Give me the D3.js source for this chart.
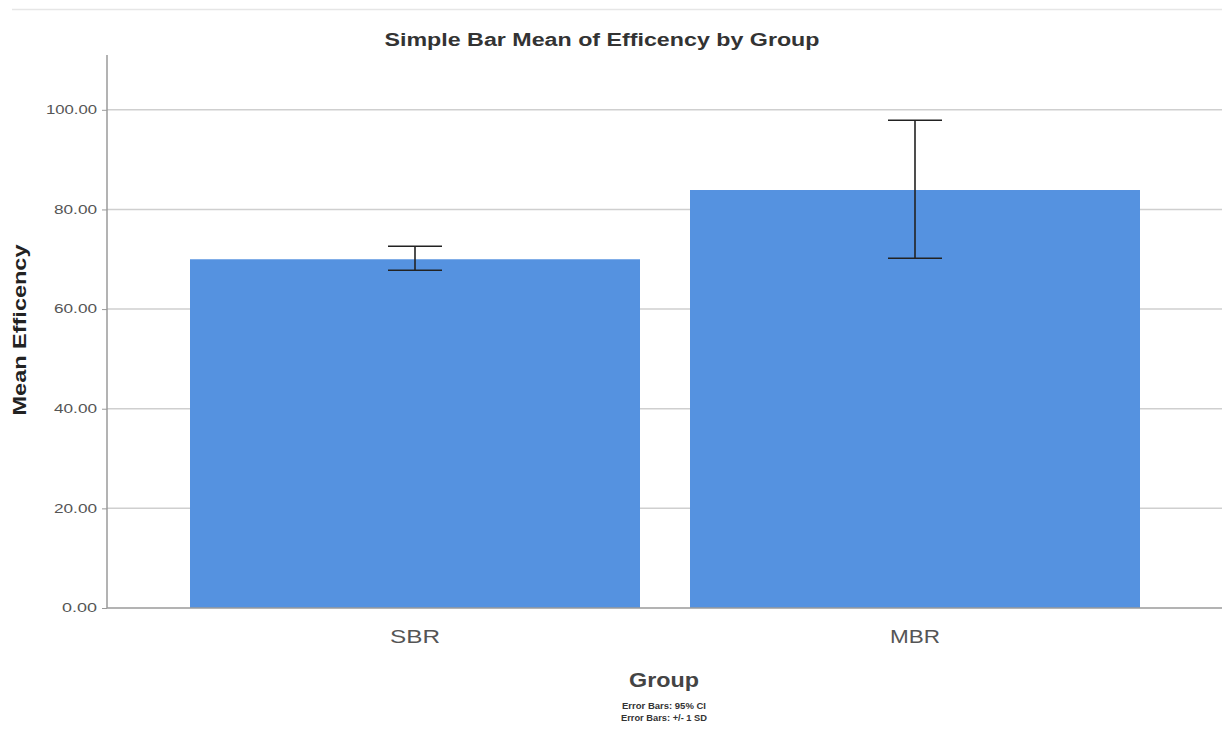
<!DOCTYPE html>
<html><head><meta charset="utf-8">
<script src="https://cdn.jsdelivr.net/npm/d3@7"></script>
<style>body{margin:0;background:#fff;}svg{display:block;font-family:"Liberation Sans",Arial,sans-serif;}</style>
</head><body>
<svg id="c" width="1222" height="736"></svg>
<script>
const groups = ["SBR", "MBR"];
const means = [70.0, 83.9];
const errLow = [67.8, 70.2];
const errHigh = [72.6, 97.9];
const yTicks = [0, 20, 40, 60, 80, 100];

const svg = d3.select("#c");
const x0 = 107, x1 = 1222, yBottom = 608;
const y = d3.scaleLinear().domain([0, 111]).range([yBottom, 55]);
const x = d3.scaleBand().domain(groups).range([165, 1165]).paddingInner(0.1).paddingOuter(0.05);

// top faint rule
svg.append("line").attr("x1", 12).attr("x2", 1222).attr("y1", 9.5).attr("y2", 9.5)
  .attr("stroke", "#e6e6e6").attr("stroke-width", 1.5);

// gridlines
svg.append("g").selectAll("line").data(yTicks.filter(d => d > 0)).join("line")
  .attr("x1", x0).attr("x2", x1).attr("y1", d => y(d)).attr("y2", d => y(d))
  .attr("stroke", "#cfcfcf").attr("stroke-width", 1.5);

// y axis
const yAxis = svg.append("g").attr("transform", `translate(${x0},0)`)
  .call(d3.axisLeft(y).tickValues(yTicks).tickFormat(d3.format(".2f")).tickSize(5).tickPadding(5));
yAxis.select(".domain").attr("stroke", "#9a9a9a").attr("stroke-width", 1.5).attr("d", `M0,${yBottom}V55`);
yAxis.selectAll(".tick line").attr("stroke", "#9a9a9a");
yAxis.selectAll(".tick text").attr("fill", "#555").attr("font-size", 12)
  .attr("textLength", d => d >= 100 ? 51 : d >= 10 ? 43 : 35).attr("lengthAdjust", "spacingAndGlyphs");

// bars
svg.append("g").selectAll("rect").data(groups).join("rect")
  .attr("x", d => x(d)).attr("width", x.bandwidth())
  .attr("y", (d, i) => y(means[i])).attr("height", (d, i) => yBottom - y(means[i]))
  .attr("fill", "#5592e0");

// x axis baseline
svg.append("line").attr("x1", x0).attr("x2", x1).attr("y1", yBottom).attr("y2", yBottom)
  .attr("stroke", "#9a9a9a").attr("stroke-width", 1.5);

// error bars
const eb = svg.append("g").attr("stroke", "#222").attr("stroke-width", 1.6);
groups.forEach((g, i) => {
  const cx = x(g) + x.bandwidth() / 2;
  eb.append("line").attr("x1", cx).attr("x2", cx).attr("y1", y(errLow[i])).attr("y2", y(errHigh[i]));
  eb.append("line").attr("x1", cx - 27).attr("x2", cx + 27).attr("y1", y(errLow[i])).attr("y2", y(errLow[i]));
  eb.append("line").attr("x1", cx - 27).attr("x2", cx + 27).attr("y1", y(errHigh[i])).attr("y2", y(errHigh[i]));
});

// x tick labels
svg.append("g").selectAll("text").data(groups).join("text")
  .attr("x", d => x(d) + x.bandwidth() / 2).attr("y", 643)
  .attr("text-anchor", "middle").attr("font-size", 18).attr("fill", "#555")
  .attr("textLength", 50).attr("lengthAdjust", "spacingAndGlyphs").text(d => d);

// titles
svg.append("text").attr("x", 602).attr("y", 46).attr("text-anchor", "middle")
  .attr("font-size", 18).attr("font-weight", "bold").attr("fill", "#333")
  .attr("textLength", 435).attr("lengthAdjust", "spacingAndGlyphs")
  .text("Simple Bar Mean of Efficency by Group");
svg.append("text").attr("transform", "translate(26,330) rotate(-90)").attr("text-anchor", "middle")
  .attr("font-size", 18).attr("font-weight", "bold").attr("fill", "#222")
  .attr("textLength", 171).attr("lengthAdjust", "spacingAndGlyphs").text("Mean Efficency");
svg.append("text").attr("x", 664).attr("y", 687).attr("text-anchor", "middle")
  .attr("font-size", 21).attr("font-weight", "bold").attr("fill", "#444")
  .attr("textLength", 70).attr("lengthAdjust", "spacingAndGlyphs").text("Group");
svg.append("text").attr("x", 664).attr("y", 709).attr("text-anchor", "middle")
  .attr("font-size", 9.5).attr("font-weight", "bold").attr("fill", "#333")
  .attr("textLength", 84).attr("lengthAdjust", "spacingAndGlyphs").text("Error Bars: 95% CI");
svg.append("text").attr("x", 664).attr("y", 721).attr("text-anchor", "middle")
  .attr("font-size", 9.5).attr("font-weight", "bold").attr("fill", "#333")
  .attr("textLength", 86).attr("lengthAdjust", "spacingAndGlyphs").text("Error Bars: +/- 1 SD");
</script>
</body></html>
